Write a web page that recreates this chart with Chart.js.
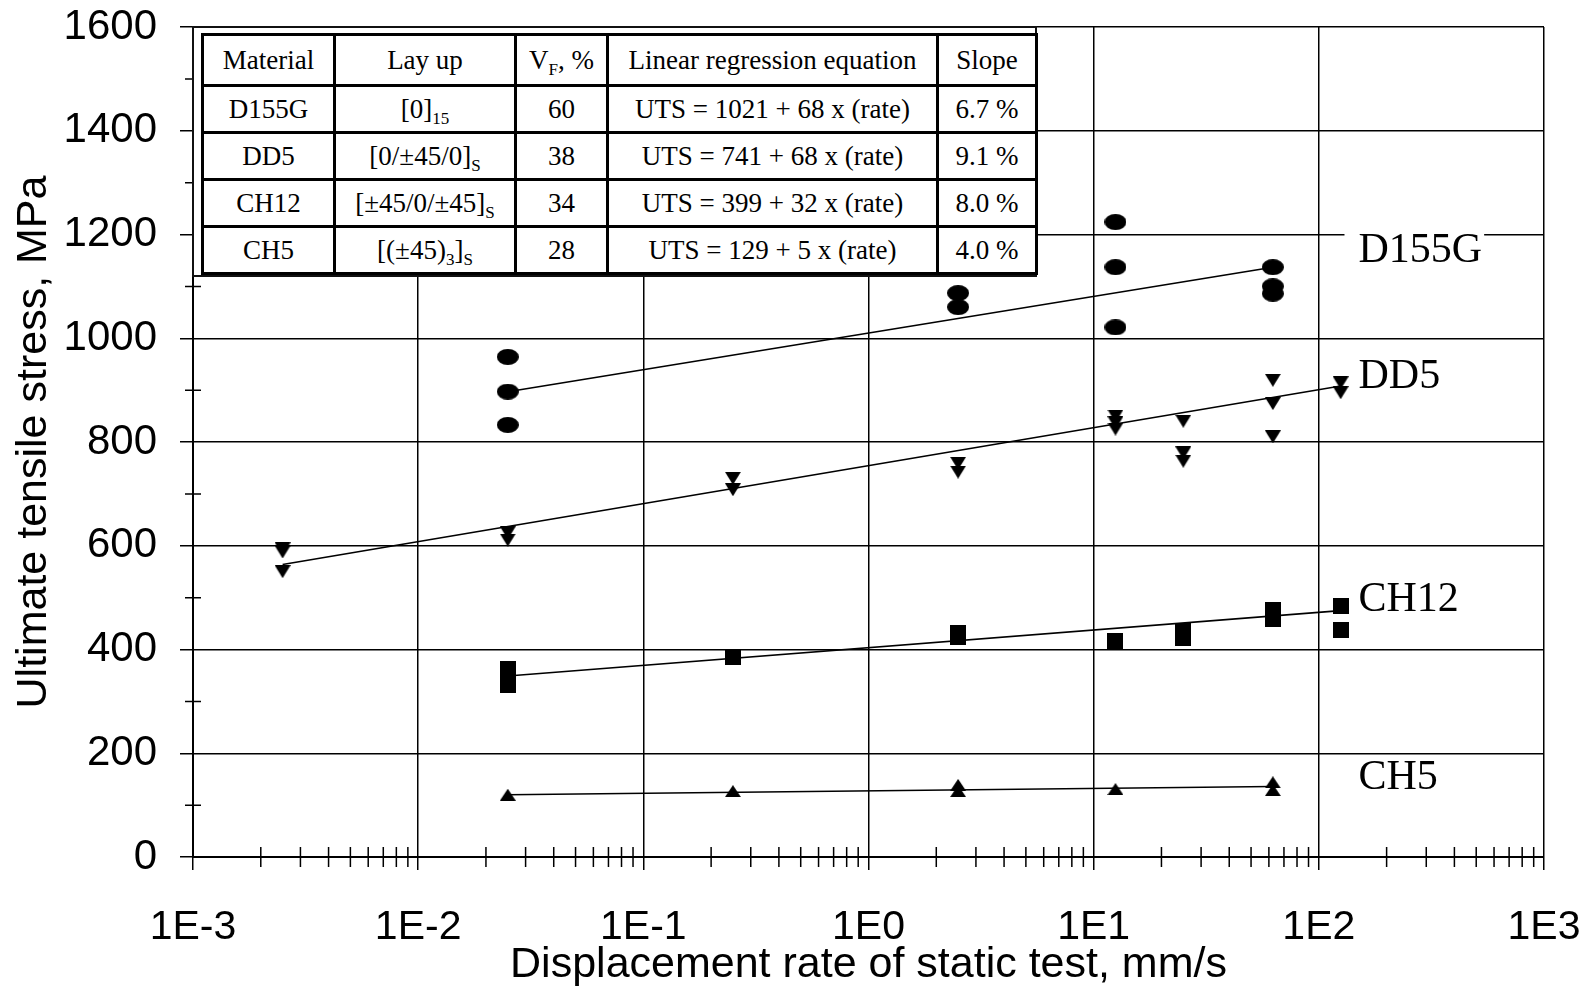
<!DOCTYPE html>
<html>
<head>
<meta charset="utf-8">
<script src="https://cdn.jsdelivr.net/npm/chart.js@4.4.1/dist/chart.umd.min.js"></script>
<style>
  html, body { margin: 0; padding: 0; background: #fff; }
  #wrap { position: relative; width: 1591px; height: 991px; }
  #frame { position: absolute; left: 192px; top: 26px; width: 845px; height: 251px;
           box-sizing: border-box; border: 2px solid #111; background: #fff; }
  #tbl { position: absolute; left: 201px; top: 33px; border-collapse: collapse; table-layout: fixed;
         font: 27px "Liberation Serif", "Times New Roman", serif; color: #000; background: #fff; }
  #tbl td { border: 3px solid #000; text-align: center; padding: 0; white-space: nowrap; }
  #tbl tr.head td { height: 48px; }
  #tbl tr.row td { height: 44px; }
  #tbl sub { font-size: 17px; vertical-align: -6px; line-height: 0; }
</style>
</head>
<body>
<div id="wrap">
  <canvas id="uts" width="1591" height="991"></canvas>
  <div id="frame"></div>
  <table id="tbl">
    <colgroup><col style="width:132px"><col style="width:181px"><col style="width:92px"><col style="width:330px"><col style="width:99px"></colgroup>
    <tbody id="tbody"></tbody>
  </table>
</div>
<script>
// axis ticks
const xTickValues = [0.001, 0.01, 0.1, 1, 10, 100, 1000];
const xTickLabels = ['1E-3', '1E-2', '1E-1', '1E0', '1E1', '1E2', '1E3'];
const xMinorSteps = [2, 3, 4, 5, 6, 7, 8, 9];
const yMinorValues = [100, 300, 500, 700, 900, 1100, 1300, 1500];

// D155G  [0]15
const d155gRate = [0.025, 0.025, 0.025, 2.5, 2.5, 12.5, 12.5, 12.5, 62.5, 62.5, 62.5];
const d155gUts = [964, 897, 833, 1087, 1060, 1224, 1137, 1021, 1137, 1100, 1086];
const d155gFitRate = [0.025, 62.5];
const d155gFitUts = [897, 1137];

// DD5  [0/±45/0]s
const dd5Rate = [0.0025, 0.0025, 0.0025, 0.025, 0.025, 0.25, 0.25, 2.5, 2.5,
                 12.5, 12.5, 12.5, 25, 25, 25, 62.5, 62.5, 62.5, 125, 125];
const dd5Uts = [594, 588, 550, 625, 611, 730, 708, 759, 742,
                850, 837, 825, 840, 779, 763, 919, 874, 810, 914, 895];
const dd5FitRate = [0.0025, 125];
const dd5FitUts = [564, 908];

// CH12  [±45/0/±45]s
const ch12Rate = [0.025, 0.025, 0.25, 2.5, 2.5, 12.5, 25, 25, 62.5, 62.5, 125, 125];
const ch12Uts = [362, 332, 386, 432, 424, 417, 436, 422, 477, 459, 484, 438];
const ch12FitRate = [0.025, 125];
const ch12FitUts = [349, 475];

// CH5  [(±45)3]s
const ch5Rate = [0.025, 0.25, 2.5, 2.5, 12.5, 62.5, 62.5];
const ch5Uts = [120, 127, 139, 127, 131, 144, 129];
const ch5FitRate = [0.025, 62.5];
const ch5FitUts = [120, 136];

// inset table
const tblHead = ['Material', 'Lay up', 'V<sub>F</sub>, %', 'Linear regression equation', 'Slope'];
const tblMaterial = ['D155G', 'DD5', 'CH12', 'CH5'];
const tblLayup = ['[0]<sub>15</sub>', '[0/±45/0]<sub>S</sub>', '[±45/0/±45]<sub>S</sub>', '[(±45)<sub>3</sub>]<sub>S</sub>'];
const tblVf = ['60', '38', '34', '28'];
const tblEq = ['UTS = 1021 + 68 x (rate)', 'UTS = 741 + 68 x (rate)', 'UTS = 399 + 32 x (rate)', 'UTS = 129 + 5 x (rate)'];
const tblSlope = ['6.7 %', '9.1 %', '8.0 %', '4.0 %'];

// series names written next to the lines
const seriesNotes = [
  { text: 'D155G', x: 150, y: 1168, bg: true },
  { text: 'DD5', x: 150, y: 925 },
  { text: 'CH12', x: 150, y: 495 },
  { text: 'CH5', x: 150, y: 152 }
];

const sans = '"Liberation Sans", Arial, Helvetica, sans-serif';
const serif = '"Liberation Serif", "Times New Roman", serif';

// table
const tbody = document.getElementById('tbody');
tbody.innerHTML = '<tr class="head">' + tblHead.map(h => '<td>' + h + '</td>').join('') + '</tr>' +
  tblMaterial.map((m, i) => '<tr class="row"><td>' + m + '</td><td>' + tblLayup[i] + '</td><td>' + tblVf[i] +
    '</td><td>' + tblEq[i] + '</td><td>' + tblSlope[i] + '</td></tr>').join('');

// marker glyphs
function glyph(w, h, paint) {
  const c = document.createElement('canvas');
  c.width = w; c.height = h;
  const g = c.getContext('2d');
  g.fillStyle = '#000';
  g.beginPath();
  paint(g, w, h);
  g.fill();
  return c;
}
const ellipseMark = glyph(22, 16, (g, w, h) => g.ellipse(w / 2, h / 2, w / 2, h / 2, 0, 0, Math.PI * 2));
const downMark = glyph(16, 13, (g, w, h) => { g.moveTo(0, 0); g.lineTo(w, 0); g.lineTo(w / 2, h); g.closePath(); });
const squareMark = glyph(16, 16, (g, w, h) => g.rect(0, 0, w, h));
const upMark = glyph(16, 12, (g, w, h) => { g.moveTo(w / 2, 0); g.lineTo(w, h); g.lineTo(0, h); g.closePath(); });

const pts = (xs, ys) => xs.map((x, i) => ({ x, y: ys[i] }));
const markers = (xs, ys, style) => ({ data: pts(xs, ys), pointStyle: style, pointRadius: 8, showLine: false, order: 0 });
const fit = (xs, ys) => ({ data: pts(xs, ys), showLine: true, borderColor: '#000', borderWidth: 1.6, pointRadius: 0, order: 1 });

const minorTicks = {
  id: 'minorTicks',
  afterDraw(chart) {
    const { ctx, chartArea: a, scales: { x, y } } = chart;
    ctx.save();
    ctx.strokeStyle = '#000';
    ctx.lineWidth = 1.5;
    ctx.beginPath();
    xTickValues.slice(0, -1).forEach(d => xMinorSteps.forEach(k => {
      const px = x.getPixelForValue(d * k);
      ctx.moveTo(px, a.bottom - 10);
      ctx.lineTo(px, a.bottom + 10);
    }));
    yMinorValues.forEach(v => {
      const py = y.getPixelForValue(v);
      ctx.moveTo(a.left - 8, py);
      ctx.lineTo(a.left + 8, py);
    });
    ctx.stroke();
    ctx.restore();
  }
};

const notes = {
  id: 'notes',
  afterDraw(chart) {
    const { ctx, scales: { x, y } } = chart;
    ctx.save();
    ctx.font = '42px ' + serif;
    ctx.textAlign = 'left';
    ctx.textBaseline = 'middle';
    seriesNotes.forEach(n => {
      const px = x.getPixelForValue(n.x), py = y.getPixelForValue(n.y);
      if (n.bg) {
        const w = ctx.measureText(n.text).width;
        ctx.fillStyle = '#fff';
        ctx.fillRect(px - 14, py - 24, w + 16, 48);
      }
      ctx.fillStyle = '#000';
      ctx.fillText(n.text, px, py);
    });
    ctx.restore();
  }
};

new Chart(document.getElementById('uts'), {
  type: 'scatter',
  data: {
    datasets: [
      fit(d155gFitRate, d155gFitUts),
      fit(dd5FitRate, dd5FitUts),
      fit(ch12FitRate, ch12FitUts),
      fit(ch5FitRate, ch5FitUts),
      markers(d155gRate, d155gUts, ellipseMark),
      markers(dd5Rate, dd5Uts, downMark),
      markers(ch12Rate, ch12Uts, squareMark),
      markers(ch5Rate, ch5Uts, upMark)
    ]
  },
  options: {
    responsive: false,
    animation: false,
    layout: { padding: { top: 27, right: 47, bottom: 0, left: 0 } },
    plugins: { legend: { display: false }, tooltip: { enabled: false } },
    scales: {
      x: {
        type: 'logarithmic', min: 0.001, max: 1000,
        afterBuildTicks: s => { s.ticks = xTickValues.map(value => ({ value })); },
        afterFit: s => { s.height = 134; s.paddingLeft = 0; s.paddingRight = 0; },
        ticks: { callback: (v, i) => xTickLabels[i], color: '#000', font: { family: sans, size: 41 },
                 padding: 33, maxRotation: 0, autoSkip: false },
        grid: { color: '#000', lineWidth: 1.5, tickLength: 13 },
        border: { color: '#000', width: 2 },
        title: { display: true, text: 'Displacement rate of static test, mm/s', color: '#000',
                 font: { family: sans, size: 43 }, padding: { top: 0, bottom: 0 } }
      },
      y: {
        min: 0, max: 1600,
        afterFit: s => { s.width = 193; s.paddingTop = 0; s.paddingBottom = 0; },
        ticks: { stepSize: 200, callback: v => String(v), color: '#000',
                 font: { family: sans, size: 42 }, padding: 23 },
        grid: { color: '#000', lineWidth: 1.5, tickLength: 13 },
        border: { color: '#000', width: 2 },
        title: { display: true, text: 'Ultimate tensile stress, MPa', color: '#000',
                 font: { family: sans, size: 43 }, padding: { top: 8, bottom: 0 } }
      }
    }
  },
  plugins: [minorTicks, notes]
});
</script>
</body>
</html>
